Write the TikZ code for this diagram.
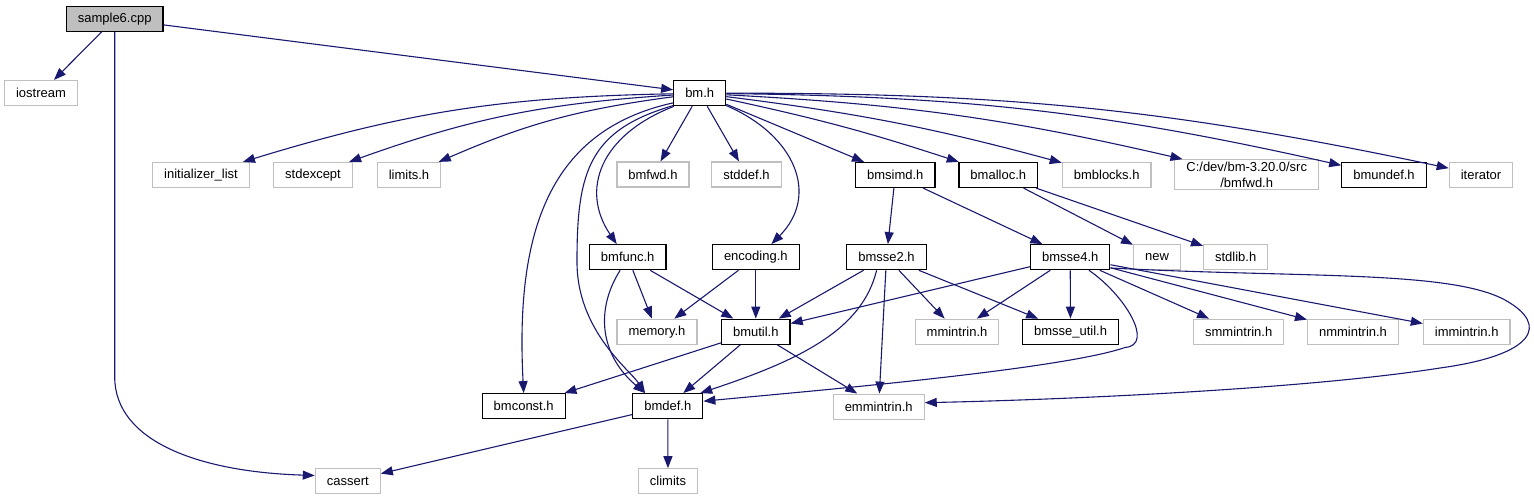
\documentclass[tikz,border=0pt]{standalone}
\usepackage{fontspec}
\setmainfont{Liberation Sans}
\usetikzlibrary{arrows.meta}
\definecolor{EdgeClr}{HTML}{191970}
\definecolor{ExtClr}{HTML}{BFBFBF}

\begin{document}
\begin{tikzpicture}[x=1pt,y=-1pt,
  docbox/.style={draw=black,line width=1.2pt,minimum height=25pt,inner xsep=11.5pt,inner ysep=2pt,font=\fontsize{13}{16}\selectfont},
  extbox/.style={docbox,draw=ExtClr},
  incl/.style={EdgeClr,line width=1.1pt,-{Triangle[length=12pt,width=9pt]}}]
\useasboundingbox (0,0) rectangle (1534,500);

% files
\node[docbox,fill=ExtClr] (sample) at (114.7,18.7) {sample6.cpp};
\node[extbox] (iostream) at (41,93) {iostream};
\node[docbox] (bm) at (699.7,93.2) {bm.h};

\node[extbox] (initlist) at (201,175) {initializer\_list};
\node[extbox] (stdexcept) at (313,175) {stdexcept};
\node[extbox] (limits) at (409,175) {limits.h};
\node[extbox] (bmfwd) at (653,174.5) {bmfwd.h};
\node[extbox] (stddef) at (746.5,174.5) {stddef.h};
\node[docbox] (bmsimd) at (895.3,175) {bmsimd.h};
\node[docbox] (bmalloc) at (998.3,175) {bmalloc.h};
\node[extbox] (bmblocks) at (1106.7,175) {bmblocks.h};
\node[extbox,align=center] (cdev) at (1246.7,174.5) {C:/dev/bm-3.20.0/src\\/bmfwd.h};
\node[docbox] (bmundef) at (1384,175) {bmundef.h};
\node[extbox] (iterator) at (1481,175) {iterator};

\node[docbox] (bmfunc) at (627.7,257.2) {bmfunc.h};
\node[docbox] (encoding) at (755.8,257.2) {encoding.h};
\node[docbox] (bmsse2) at (886.5,257.2) {bmsse2.h};
\node[docbox] (bmsse4) at (1070.2,257.2) {bmsse4.h};
\node[extbox] (new) at (1157,257.2) {new};
\node[extbox] (stdlib) at (1235.7,257.2) {stdlib.h};

\node[extbox] (memory) at (657,331.7) {memory.h};
\node[docbox] (bmutil) at (755.8,331.7) {bmutil.h};
\node[extbox] (mmintrin) at (957,331.7) {mmintrin.h};
\node[docbox] (bmsseutil) at (1070.5,331.7) {bmsse\_util.h};
\node[extbox] (smmintrin) at (1238.7,331.7) {smmintrin.h};
\node[extbox] (nmmintrin) at (1353,331.7) {nmmintrin.h};
\node[extbox] (immintrin) at (1466.7,331.7) {immintrin.h};

\node[docbox] (bmconst) at (523.7,406.2) {bmconst.h};
\node[docbox] (bmdef) at (667.8,406.2) {bmdef.h};
\node[extbox] (emmintrin) at (878.7,406.7) {emmintrin.h};

\node[extbox] (cassert) at (347.8,481.3) {cassert};
\node[extbox] (climits) at (668,481.3) {climits};

% includes of sample6.cpp
\draw[incl] (sample) -- (iostream);
\draw[incl] (sample) -- (bm);
\draw[incl] (sample.south) -- ++(0,345) .. controls ++(0,65) and (200,472) .. (cassert.170);

% includes of bm.h
\draw[incl] (bm) to[bend right=8] (initlist);
\draw[incl] (bm) to[bend right=8] (stdexcept);
\draw[incl] (bm) to[bend right=8] (limits);
\draw[incl] (bm) -- (bmfwd);
\draw[incl] (bm) -- (stddef);
\draw[incl] (bm.200) .. controls (550,130) and (515,230) .. (bmconst.north);
\draw[incl] (bm.205) .. controls (590,130) and (577,170) .. (577,260) .. controls (576,330) and (630,370) .. (bmdef.150);
\draw[incl] (bm.207) .. controls (600,135) and (580,190) .. (bmfunc.130);
\draw[incl] (bm.335) .. controls (795,135) and (820,195) .. (encoding.40);
\draw[incl] (bm) -- (bmsimd);
\draw[incl] (bm) to[bend left=3] (bmalloc);
\draw[incl] (bm) to[bend left=4] (bmblocks);
\draw[incl] (bm) to[bend left=5] (cdev);
\draw[incl] (bm) to[bend left=6] (bmundef);
\draw[incl] (bm) to[bend left=6] (iterator);

% second level
\draw[incl] (bmsimd) -- (bmsse2);
\draw[incl] (bmsimd) -- (bmsse4);
\draw[incl] (bmalloc) -- (new);
\draw[incl] (bmalloc) -- (stdlib);

\draw[incl] (bmfunc) -- (memory);
\draw[incl] (bmfunc) -- (bmutil);
\draw[incl] (bmfunc.240) .. controls (595,310) and (600,355) .. (bmdef.150);
\draw[incl] (encoding) -- (memory);
\draw[incl] (encoding) -- (bmutil);

\draw[incl] (bmsse2) -- (bmutil);
\draw[incl] (bmsse2.233) .. controls (862,330) and (800,360) .. (bmdef.22);
\draw[incl] (bmsse2) -- (emmintrin);
\draw[incl] (bmsse2) -- (mmintrin);
\draw[incl] (bmsse2) -- (bmsseutil);

\draw[incl] (bmsse4) -- (bmutil);
\draw[incl] (bmsse4) -- (mmintrin);
\draw[incl] (bmsse4) -- (bmsseutil);
\draw[incl] (bmsse4.325) .. controls (1125,295) and (1155,345) .. (1125,347.5) .. controls (1060,370) and (800,392) .. (bmdef.8);
\draw[incl] (bmsse4) -- (smmintrin);
\draw[incl] (bmsse4) -- (nmmintrin);
\draw[incl] (bmsse4) -- (immintrin);
\draw[incl] (bmsse4.345) .. controls (1300,278) and (1450,270) .. (1505,300) .. controls (1550,325) and (1535,355) .. (1440,368) .. controls (1300,390) and (1050,400) .. (emmintrin.5);

% bmutil.h and bmdef.h
\draw[incl] (bmutil) -- (bmconst);
\draw[incl] (bmutil) -- (bmdef);
\draw[incl] (bmutil) -- (emmintrin);
\draw[incl] (bmdef) -- (cassert);
\draw[incl] (bmdef) -- (climits);

\end{tikzpicture}
\end{document}
